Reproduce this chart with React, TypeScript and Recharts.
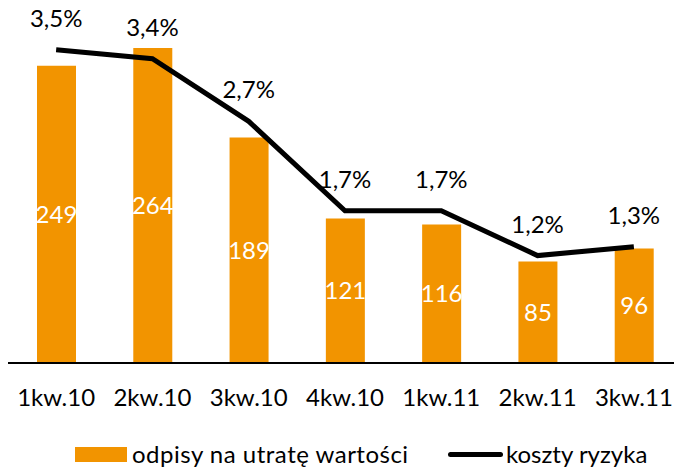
import React from 'react';
import {
  ComposedChart,
  Bar,
  Line,
  XAxis,
  YAxis,
  Legend,
  LabelList,
} from 'recharts';

const quarters = ['1kw.10', '2kw.10', '3kw.10', '4kw.10', '1kw.11', '2kw.11', '3kw.11'];
const writeOffs = [249, 264, 189, 121, 116, 85, 96];
const riskCost = [3.5, 3.4, 2.7, 1.7, 1.7, 1.2, 1.3];

const ORANGE = '#F29400';
const FONT = 'Lato, "Open Sans", sans-serif';

const data = quarters.map((q, i) => ({
  quarter: q,
  odpisy: writeOffs[i],
  koszty: riskCost[i],
}));

const fmtPct = (v: number) => `${v.toFixed(1).replace('.', ',')}%`;

// legend drawn by hand so the swatches sit where the original has them
const LegendBox = () => (
  <div
    style={{
      position: 'relative',
      height: 45,
      fontFamily: FONT,
      fontSize: 24,
      color: '#000',
      whiteSpace: 'nowrap',
    }}
  >
    <span style={{ position: 'absolute', left: 75, top: 23, width: 52, height: 15, background: ORANGE }} />
    <span style={{ position: 'absolute', left: 132, top: 15, lineHeight: '30px', letterSpacing: 0.5 }}>
      odpisy na utratę wartości
    </span>
    <span
      style={{
        position: 'absolute',
        left: 448,
        top: 28,
        width: 55,
        height: 5,
        background: '#000',
        borderRadius: 3,
      }}
    />
    <span style={{ position: 'absolute', left: 506, top: 15, lineHeight: '30px' }}>koszty ryzyka</span>
  </div>
);

export default function App() {
  return (
    <div style={{ width: 674, height: 469, overflow: 'hidden', background: '#fff' }}>
      <style>{'body { margin: 0; }'}</style>
      <ComposedChart
        width={682}
        height={469}
        data={data}
        margin={{ top: 5, right: 0, bottom: 0, left: 8 }}
        barCategoryGap={0}
      >
        <XAxis
          dataKey="quarter"
          axisLine={{ stroke: '#000', strokeWidth: 2 }}
          tickLine={false}
          tickMargin={20}
          height={61}
          tick={{ fill: '#000', fontSize: 24, fontFamily: FONT }}
          interval={0}
        />
        <YAxis yAxisId="left" domain={[0, 300]} hide />
        <YAxis yAxisId="right" orientation="right" domain={[0, 4]} hide />
        <Legend
          verticalAlign="bottom"
          height={45}
          content={() => <LegendBox />}
          wrapperStyle={{ left: 0, width: 674 }}
        />
        <Bar
          yAxisId="left"
          dataKey="odpisy"
          fill={ORANGE}
          barSize={39}
          isAnimationActive={false}
        >
          <LabelList
            dataKey="odpisy"
            position="center"
            fill="#fff"
            style={{ fontSize: 24, fontFamily: FONT }}
          />
        </Bar>
        <Line
          yAxisId="right"
          dataKey="koszty"
          stroke="#000"
          strokeWidth={5}
          dot={false}
          activeDot={false}
          type="linear"
          isAnimationActive={false}
        >
          <LabelList
            dataKey="koszty"
            position="top"
            offset={23}
            fill="#000"
            formatter={(v: any) => fmtPct(Number(v))}
            style={{ fontSize: 24, fontFamily: FONT }}
          />
        </Line>
      </ComposedChart>
    </div>
  );
}
